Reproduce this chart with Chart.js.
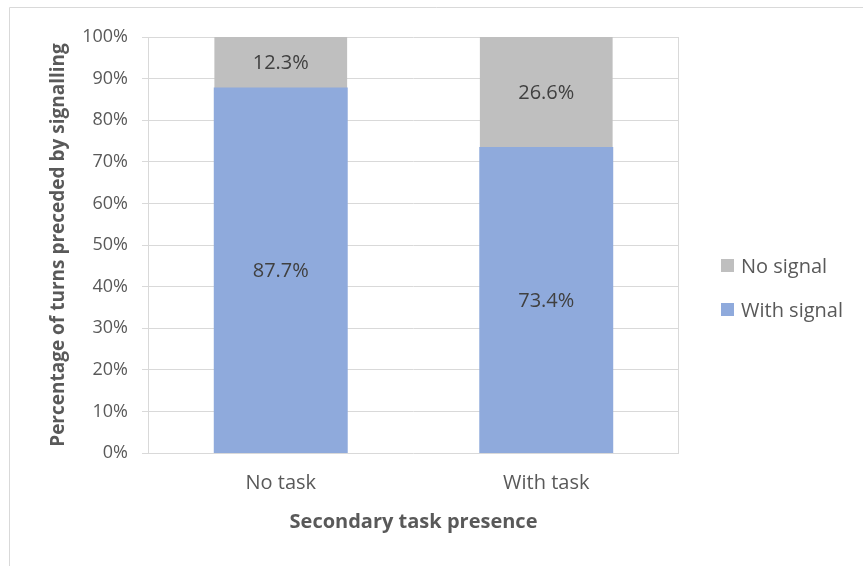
<!DOCTYPE html>
<html>
<head>
<meta charset="utf-8">
<script src="https://cdn.jsdelivr.net/npm/chart.js@4/dist/chart.umd.min.js"></script>
<style>
  html, body { margin: 0; padding: 0; background: #ffffff; }
  #wrap { width: 863px; height: 566px; position: relative; }
</style>
</head>
<body>
<div id="wrap"><canvas id="c" width="863" height="566"></canvas></div>
<script>
// Categories and series (percent of turns)
const categories = ['No task', 'With task'];
const withSignal = [87.7, 73.4];
const noSignal = [12.3, 26.6];
const yTicks = [0, 10, 20, 30, 40, 50, 60, 70, 80, 90, 100];

const FONT = "'Open Sans', 'Liberation Sans', sans-serif";
const GRID = '#d9d9d9';

// Frame, plot border, value labels and legend
const decor = {
  id: 'decor',
  beforeDraw(chart) {
    const ctx = chart.ctx;
    ctx.save();
    ctx.strokeStyle = GRID;
    ctx.lineWidth = 1;
    ctx.beginPath();
    ctx.moveTo(9.5, chart.height);
    ctx.lineTo(9.5, 7.5);
    ctx.lineTo(chart.width, 7.5);
    ctx.stroke();
    ctx.restore();
  },
  afterDatasetsDraw(chart) {
    const ctx = chart.ctx;
    const a = chart.chartArea;
    ctx.save();
    ctx.strokeStyle = GRID;
    ctx.lineWidth = 1;
    ctx.beginPath();
    ctx.moveTo(Math.round(a.left) + 0.5, Math.round(a.top) + 0.5);
    ctx.lineTo(Math.round(a.left) + 0.5, Math.round(a.bottom) + 0.5);
    ctx.moveTo(Math.round(a.right) - 0.5, Math.round(a.top) + 0.5);
    ctx.lineTo(Math.round(a.right) - 0.5, Math.round(a.bottom) + 0.5);
    ctx.stroke();

    // value labels centred in each segment
    ctx.font = '20px ' + FONT;
    ctx.fillStyle = '#404040';
    ctx.textAlign = 'center';
    ctx.textBaseline = 'middle';
    chart.data.datasets.forEach((ds, i) => {
      const meta = chart.getDatasetMeta(i);
      meta.data.forEach((bar, j) => {
        const p = bar.getProps(['x', 'y', 'base'], true);
        ctx.fillText(ds.data[j].toFixed(1) + '%', p.x, (p.y + p.base) / 2 + 1);
      });
    });

    // legend, top series first
    const rows = chart.data.datasets.slice().reverse();
    const lx = 721, ly = 266, gap = 44;
    ctx.textAlign = 'left';
    rows.forEach((ds, k) => {
      const y = ly + k * gap;
      ctx.fillStyle = ds.backgroundColor;
      ctx.fillRect(lx, y - 7, 13, 13);
      ctx.fillStyle = '#595959';
      ctx.font = '20px ' + FONT;
      ctx.fillText(ds.label, lx + 20, y + 1);
    });
    ctx.restore();
  }
};

new Chart(document.getElementById('c'), {
  type: 'bar',
  data: {
    labels: categories,
    datasets: [
      // drawn last and slightly inflated so the seam between segments stays closed
      { label: 'With signal', data: withSignal, backgroundColor: '#8faadc', borderWidth: 0, order: 0, inflateAmount: 0.6 },
      { label: 'No signal', data: noSignal, backgroundColor: '#bfbfbf', borderWidth: 0, order: 1 }
    ]
  },
  options: {
    responsive: false,
    animation: false,
    devicePixelRatio: 1,
    layout: { padding: { left: 0, top: 37, right: 184, bottom: 0 } },
    categoryPercentage: 1.0,
    barPercentage: 0.5,
    plugins: { legend: { display: false }, tooltip: { enabled: false } },
    scales: {
      x: {
        stacked: true,
        grid: { display: false, drawTicks: false },
        border: { display: false },
        ticks: { color: '#595959', font: { family: FONT, size: 20 }, padding: 18 },
        title: {
          display: true,
          text: 'Secondary task presence',
          color: '#595959',
          font: { family: FONT, size: 20, weight: 'bold' },
          padding: { top: 0, bottom: 32 }
        },
        afterFit(s) { s.height = 113; }
      },
      y: {
        stacked: true,
        min: 0,
        max: 100,
        afterBuildTicks(s) { s.ticks = yTicks.map(v => ({ value: v })); },
        grid: { color: GRID, lineWidth: 1, drawTicks: true, tickLength: 6 },
        border: { display: false },
        ticks: {
          color: '#595959',
          font: { family: FONT, size: 18 },
          padding: 14,
          callback: v => v + '%'
        },
        title: {
          display: true,
          text: 'Percentage of turns preceded by signalling',
          color: '#595959',
          font: { family: FONT, size: 19, weight: 'bold' },
          padding: { top: 47, bottom: 0 }
        },
        afterFit(s) { s.width = 148; }
      }
    }
  },
  plugins: [decor]
});
</script>
</body>
</html>
